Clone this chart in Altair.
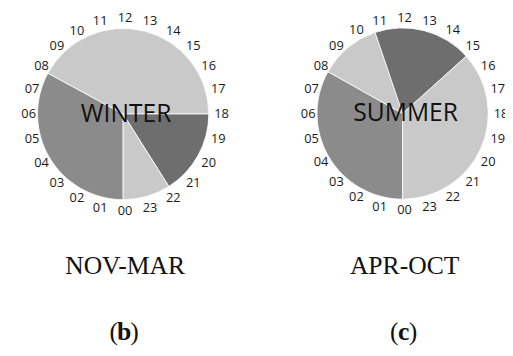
import math
import altair as alt
import pandas as pd

# ---- data ----
hours = ["00", "01", "02", "03", "04", "05", "06", "07", "08", "09", "10", "11",
         "12", "13", "14", "15", "16", "17", "18", "19", "20", "21", "22", "23"]

winter_hours = [7.9, 10.1, 3.85, 2.15]          # slice lengths in hours, starting at 00
winter_shades = ["#8b8b8b", "#c9c9c9", "#6e6e6e", "#c9c9c9"]
summer_hours = [7.95, 2.8, 4.45, 8.8]
summer_shades = ["#8b8b8b", "#c9c9c9", "#6e6e6e", "#c9c9c9"]

season_titles = ["WINTER", "SUMMER"]
period_labels = ["NOV-MAR", "APR-OCT"]
panel_letters = ["b", "c"]

# ---- layout ----
W, H = 505, 338
centers = [(117, 105), (401, 104.5)]
R = 87
LABEL_R = 98
SERIF = 26
paren_gap = [10.5, 9.5]

theta_scale = alt.Scale(domain=[0, 24], range=[math.pi, 3 * math.pi])


def slices(values, shades):
    start, rows = 0.0, []
    for v, c in zip(values, shades):
        rows.append({"start": start, "end": start + v, "shade": c})
        start += v
    return pd.DataFrame(rows)


hour_df = pd.DataFrame({"hour": list(range(24)), "label": hours})


def one_text(txt, x, y, **kw):
    return alt.Chart(pd.DataFrame({"t": [txt]})).mark_text(
        align="center", baseline="middle", color="#111111", **kw
    ).encode(text="t:N", x=alt.value(x), y=alt.value(y))


layers = []
for (cx, cy), vals, shades, title, period, letter, gap in zip(
        centers, [winter_hours, summer_hours], [winter_shades, summer_shades],
        season_titles, period_labels, panel_letters, paren_gap):
    df = slices(vals, shades)
    pie = alt.Chart(df).mark_arc(radius=R, stroke="white", strokeWidth=0.8).encode(
        theta=alt.Theta("start:Q", scale=theta_scale),
        theta2="end:Q",
        color=alt.Color("shade:N", scale=None),
        x=alt.value(cx), y=alt.value(cy),
    )
    lbl = alt.Chart(hour_df).mark_text(
        radius=LABEL_R, font="Open Sans", fontSize=13, color="#1a1a1a",
        align="center", baseline="middle",
    ).encode(
        theta=alt.Theta("hour:Q", scale=theta_scale, stack=False),
        text="label:N",
        x=alt.value(cx + 2), y=alt.value(cy + 0.5),
    )
    layers += [
        pie, lbl,
        one_text(title, cx + 3, cy, font="Open Sans", fontSize=25),
        one_text(period, cx + 2, 260, font="Liberation Serif", fontSize=SERIF),
        one_text("(", cx + 1, 327, font="Liberation Serif", fontSize=SERIF, dx=-gap),
        one_text(letter, cx + 1, 327, font="Liberation Serif", fontSize=SERIF, fontWeight="bold"),
        one_text(")", cx + 1, 327, font="Liberation Serif", fontSize=SERIF, dx=gap),
    ]

chart = alt.layer(*layers).properties(
    width=W, height=H, padding=0, autosize=alt.AutoSizeParams(type="none"),
).configure_view(stroke=None)

chart.save("out.html", embed_options={"renderer": "svg", "actions": False})
